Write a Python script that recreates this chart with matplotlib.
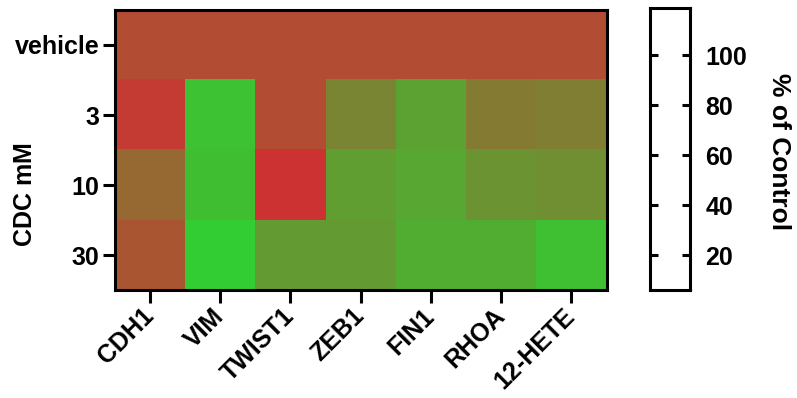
import matplotlib
matplotlib.use("Agg")
import matplotlib.pyplot as plt
from matplotlib.colors import LinearSegmentedColormap
import numpy as np

plt.rcParams['font.family'] = ['Liberation Sans', 'DejaVu Sans']
plt.rcParams['font.weight'] = 'bold'
plt.rcParams['mathtext.fontset'] = 'custom'
plt.rcParams['mathtext.rm'] = 'Liberation Sans'

genes = ['CDH1', 'VIM', 'TWIST1', 'ZEB1', 'FIN1', 'RHOA', '12-HETE']
doses = ['vehicle', '3', '10', '30']

# % of control, one list per dose
vehicle = [100, 100, 100, 100, 100, 100, 100]
cdc_3 = [112, 14, 100, 58, 37, 66, 63]
cdc_10 = [79, 17, 119, 40, 33, 48, 51]
cdc_30 = [93, 6, 42, 42, 29, 29, 15]

vmin, vmax = 6, 119
cbar_ticks = [20, 40, 60, 80, 100]

data = np.array([vehicle, cdc_3, cdc_10, cdc_30])
cmap = LinearSegmentedColormap.from_list('gr', ['#32CD32', '#CD3232'])

fig = plt.figure(figsize=(7.97, 3.98), dpi=100)
ax = fig.add_axes([0.144, 0.271, 0.617, 0.704])
ax.imshow(data, cmap=cmap, vmin=vmin, vmax=vmax, aspect='auto',
          interpolation='nearest')

ax.set_xticks(range(len(genes)))
ax.set_xticklabels(genes, rotation=45, ha='right', va='center',
                   rotation_mode='anchor', fontsize=18, fontweight='bold')
ax.set_yticks(range(len(doses)))
ax.set_yticklabels(doses, fontsize=18, fontweight='bold')
ax.tick_params(axis='x', length=9, width=2.2, pad=7)
ax.tick_params(axis='y', length=9, width=2.2, pad=2)
for s in ax.spines.values():
    s.set_linewidth(2.2)

fig.text(0.031, 0.51, r'CDC $\mathrm{m}$M', rotation=90, fontsize=18,
         fontweight='bold', ha='center', va='center')

# scale box, left blank
cax = fig.add_axes([0.815, 0.271, 0.051, 0.709])
cax.set_facecolor('white')
cax.set_xlim(0, 1)
cax.set_ylim(vmin, vmax)
cax.set_xticks([])
cax.set_yticks(cbar_ticks)
cax.set_yticklabels([str(t) for t in cbar_ticks], fontsize=18, fontweight='bold')
cax.tick_params(axis='y', direction='in', length=6, width=2.2, left=True,
                right=True, labelleft=False, labelright=True, pad=11)
for s in cax.spines.values():
    s.set_linewidth(2.2)

fig.text(0.978, 0.62, '% of Control', rotation=270, fontsize=19,
         fontweight='bold', ha='center', va='center')

fig.savefig('out.png', dpi=100)
